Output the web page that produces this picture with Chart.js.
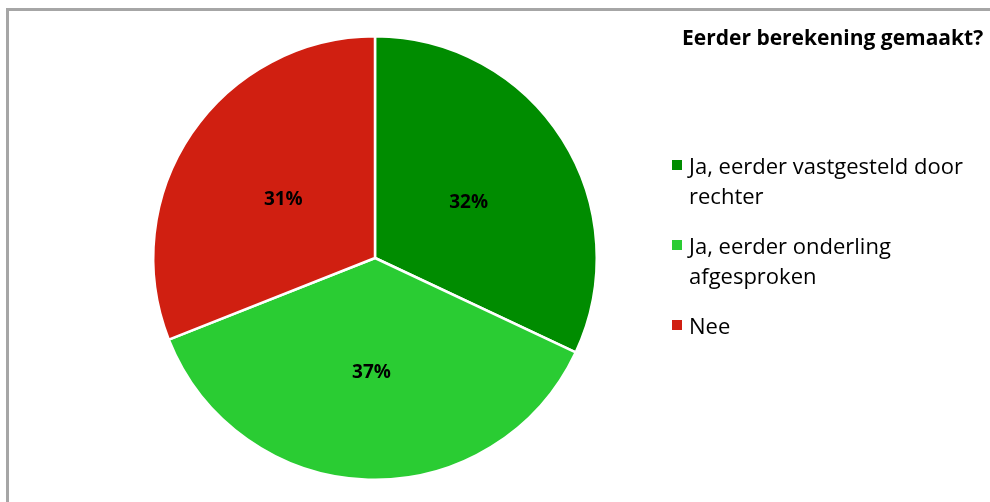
<!DOCTYPE html>
<html><head><meta charset="utf-8">
<script src="https://cdn.jsdelivr.net/npm/chart.js@4"></script>
<style>
html,body{margin:0;padding:0;background:#fff;width:990px;height:502px;overflow:hidden;font-family:"Open Sans","Noto Sans",sans-serif}
#frame{position:absolute;left:6px;top:8px;width:990px;height:500px;border-left:3px solid #a6a6a6;border-top:3px solid #a6a6a6}
#wrap{position:absolute;left:0;top:0;width:990px;height:502px}
#title{position:absolute;left:682px;top:22px;font-weight:bold;font-size:21px;line-height:30px;color:#000;white-space:nowrap}
#legend{position:absolute;left:672px;top:150px;width:320px;font-size:22px;color:#000;line-height:30px}
.item{position:relative;padding-left:17px;margin-bottom:20px}
.sw{position:absolute;left:0;top:10px;width:10px;height:10px}
</style></head>
<body>
<div id="frame"></div>
<div id="wrap"><canvas id="c" width="990" height="502"></canvas></div>
<div id="title"></div>
<div id="legend"></div>
<script>
const title = "Eerder berekening gemaakt?";
const categories = ["Ja, eerder vastgesteld door rechter", "Ja, eerder onderling afgesproken", "Nee"];
const legendLines = [["Ja, eerder vastgesteld door", "rechter"], ["Ja, eerder onderling", "afgesproken"], ["Nee"]];
const values = [32, 37, 31];
const colors = ["#008c00", "#2acc33", "#d01f11"];

document.getElementById('title').textContent = title;
const lg = document.getElementById('legend');
legendLines.forEach((lines, i) => {
  const d = document.createElement('div'); d.className = 'item';
  const s = document.createElement('span'); s.className = 'sw'; s.style.background = colors[i];
  d.appendChild(s);
  lines.forEach((t, j) => { if (j) d.appendChild(document.createElement('br')); d.appendChild(document.createTextNode(t)); });
  lg.appendChild(d);
});

const pctLabels = {
  id: 'pctLabels',
  afterDatasetsDraw(chart) {
    const ctx = chart.ctx;
    const meta = chart.getDatasetMeta(0);
    const data = chart.data.datasets[0].data;
    const total = data.reduce((a, b) => a + b, 0);
    ctx.save();
    ctx.font = 'bold 19px "Open Sans", "Noto Sans", sans-serif';
    ctx.fillStyle = '#000';
    ctx.textAlign = 'center';
    ctx.textBaseline = 'middle';
    meta.data.forEach((arc, i) => {
      const p = arc.tooltipPosition();
      ctx.fillText(Math.round(data[i] / total * 100) + '%', p.x, p.y + 4);
    });
    ctx.restore();
  }
};

new Chart(document.getElementById('c'), {
  type: 'pie',
  data: { labels: categories, datasets: [{ data: values, backgroundColor: colors, borderColor: '#ffffff', borderWidth: 2.5 }] },
  options: {
    responsive: false, animation: false,
    layout: { padding: { left: 152, right: 392, top: 35, bottom: 21 } },
    plugins: { legend: { display: false }, tooltip: { enabled: false }, title: { display: false } }
  },
  plugins: [pctLabels]
});
</script>
</body></html>
